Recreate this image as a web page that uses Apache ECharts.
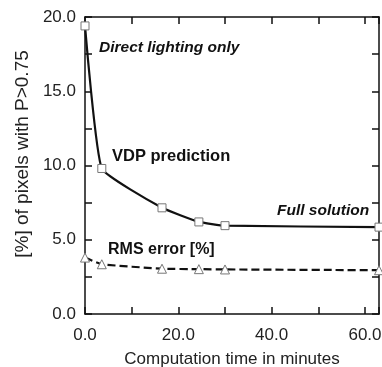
<!DOCTYPE html>
<html><head><meta charset="utf-8">
<script src="https://cdn.jsdelivr.net/npm/echarts@6/dist/echarts.min.js"></script>
<style>html,body{margin:0;padding:0;background:#fff}#c{width:382px;height:367px}</style>
</head><body><div id="c"></div>
<script>
const times = [0, 3.6, 16.5, 24.4, 30.0, 63.0];
const vdpValues = [19.4, 9.8, 7.15, 6.2, 5.95, 5.85];
const rmsValues = [3.8, 3.35, 3.05, 3.02, 3.0, 2.95];
const xTicks = [0, 20, 40, 60];
const yTicks = [0, 5, 10, 15, 20];
const xTitle = 'Computation time in minutes';
const yTitle = '[%] of pixels with P>0.75';
const annotations = ['Direct lighting only', 'VDP prediction', 'Full solution', 'RMS error [%]'];

const font = 'Liberation Sans, Arial, sans-serif';
const chart = echarts.init(document.getElementById('c'));
const pair = (xs, ys) => xs.map((x, i) => [x, ys[i]]);
const axisLine = () => ({show: true, onZero: false, lineStyle: {color: '#111', width: 1.5}});
const tick = () => ({show: true, inside: true, length: 7, lineStyle: {color: '#111', width: 1.5}});
chart.setOption({
  animation: false,
  grid: {left: 85, right: 3, top: 17, bottom: 53, containLabel: false, outerBoundsMode: 'none'},
  xAxis: [
    {type: 'value', min: 0, max: 63, interval: 10, position: 'bottom',
     axisLine: axisLine(), axisTick: tick(), splitLine: {show: false},
     axisLabel: {color: '#222', fontSize: 17, fontFamily: font, margin: 13,
       formatter: v => xTicks.includes(v) ? v.toFixed(1) : ''},
     name: xTitle, nameLocation: 'middle', nameGap: 37,
     nameTextStyle: {color: '#222', fontSize: 17, fontFamily: font}},
    {type: 'value', min: 0, max: 63, interval: 10, position: 'top',
     axisLine: axisLine(), axisTick: tick(), splitLine: {show: false}, axisLabel: {show: false}}
  ],
  yAxis: [
    {type: 'value', min: 0, max: 20, interval: 2.5, position: 'left',
     axisLine: axisLine(), axisTick: tick(), splitLine: {show: false},
     axisLabel: {color: '#222', fontSize: 17, fontFamily: font, margin: 9,
       formatter: v => yTicks.includes(v) ? v.toFixed(1) : ''}},
    {type: 'value', min: 0, max: 20, interval: 2.5, position: 'right',
     axisLine: axisLine(), axisTick: tick(), splitLine: {show: false}, axisLabel: {show: false}}
  ],
  series: [
    {type: 'line', data: pair(times, vdpValues), smooth: 0.12,
     symbol: 'rect', symbolSize: 8,
     itemStyle: {color: '#fff', borderColor: '#777', borderWidth: 1},
     lineStyle: {color: '#111', width: 2.2}, z: 3},
    {type: 'line', data: pair(times, rmsValues), smooth: 0.12,
     symbol: 'triangle', symbolSize: 9,
     itemStyle: {color: '#fff', borderColor: '#777', borderWidth: 1},
     lineStyle: {color: '#111', width: 2.2, type: [8, 4]}, z: 3}
  ],
  graphic: [
    {type: 'text', x: 23, y: 154, rotation: Math.PI / 2,
     style: {text: yTitle, font: '19px ' + font, fill: '#222', align: 'center', verticalAlign: 'middle'}},
    {type: 'text', left: 99, top: 40, style: {text: annotations[0], font: 'italic bold 15.5px ' + font, fill: '#111'}},
    {type: 'text', left: 112, top: 148, style: {text: annotations[1], font: 'bold 16.5px ' + font, fill: '#111'}},
    {type: 'text', left: 277, top: 203, style: {text: annotations[2], font: 'italic bold 15.5px ' + font, fill: '#111'}},
    {type: 'text', left: 108, top: 242, style: {text: annotations[3], font: 'bold 16px ' + font, fill: '#111'}}
  ]
});
</script></body></html>
